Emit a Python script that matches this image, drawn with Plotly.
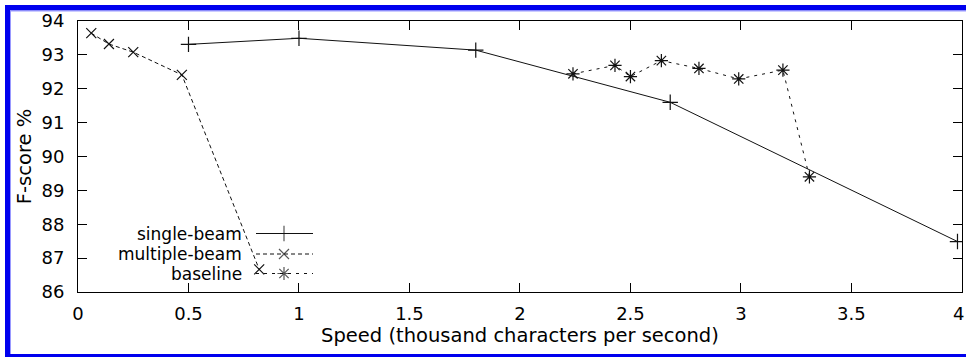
import plotly.graph_objects as go

# ---- data ----
single_x = [0.50, 1.00, 1.80, 2.68, 3.98]
single_y = [93.31, 93.49, 93.14, 91.60, 87.49]

multi_x = [0.06, 0.14, 0.25, 0.47, 0.82]
multi_y = [93.64, 93.32, 93.08, 92.41, 86.67]

base_x = [2.24, 2.43, 2.50, 2.64, 2.81, 2.99, 3.19, 3.31]
base_y = [92.44, 92.69, 92.36, 92.83, 92.60, 92.29, 92.55, 89.40]

series_names = ["single-beam", "multiple-beam", "baseline"]
x_ticks = [0, 0.5, 1, 1.5, 2, 2.5, 3, 3.5, 4]
x_tick_text = ["0", "0.5", "1", "1.5", "2", "2.5", "3", "3.5", "4"]
y_ticks = [86, 87, 88, 89, 90, 91, 92, 93, 94]

# ---- styles ----
W, H = 966, 357
ML, MR, MT, MB = 78, 4, 21, 65
PW, PH = W - ML - MR, H - MT - MB
FONT = "DejaVu Sans, Liberation Sans, Arial, sans-serif"
INK = "#111111"
styles = [
    dict(dash="solid", symbol="cross-thin", size=11),
    dict(dash="4px,3px", symbol="x-thin", size=10),
    dict(dash="3px,5px", symbol="asterisk", size=11),
]

def px_x(p):
    return (p - ML) / PW

def px_y(p):
    return (H - MB - p) / PH

fig = go.Figure()
for (xs, ys), name, st in zip([(single_x, single_y), (multi_x, multi_y), (base_x, base_y)],
                              series_names, styles):
    fig.add_trace(go.Scatter(
        x=xs, y=ys, mode="lines+markers", name=name, showlegend=False,
        line=dict(color=INK, width=1, dash=st["dash"]),
        marker=dict(symbol=st["symbol"], size=st["size"], color=INK,
                    line=dict(color=INK, width=1.2)),
    ))

# ---- custom gnuplot-style legend (text left of sample) ----
leg_rows_px = [233.5, 254, 273.5]
leg_line_px = (256, 313)
leg_mark_px = 284
leg_text_px = 244
shapes = []
annotations = []
for name, st, row in zip(series_names, styles, leg_rows_px):
    yy = px_y(row)
    shapes.append(dict(type="line", xref="paper", yref="paper",
                       x0=px_x(leg_line_px[0]), x1=px_x(leg_line_px[1]), y0=yy, y1=yy,
                       line=dict(color=INK, width=1, dash=st["dash"])))
    annotations.append(dict(xref="paper", yref="paper", x=px_x(leg_text_px), y=yy,
                            text=name, showarrow=False, xanchor="right", yanchor="middle",
                            font=dict(family=FONT, size=17, color="black")))
fig.add_trace(go.Scatter(
    x=[px_x(leg_mark_px)] * 3, y=[px_y(r) for r in leg_rows_px],
    xaxis="x2", yaxis="y2", mode="markers", showlegend=False, hoverinfo="skip",
    marker=dict(symbol=[s["symbol"] for s in styles], size=[s["size"] for s in styles],
                color=INK, line=dict(color=INK, width=1.2)),
))

# last x tick label: right-aligned at the page edge so it is not clipped
annotations.append(dict(xref="x", yref="paper", x=x_ticks[-1], y=0, xshift=MR,
                        yshift=-21, text=x_tick_text[-1], showarrow=False,
                        xanchor="right", yanchor="middle",
                        font=dict(family=FONT, size=18, color="black")))
shown_tick_text = x_tick_text[:-1] + [""]

# ---- blue page border ----
BLUE = "#0000ee"
def rect(x0, y0, x1, y1, color):
    return dict(type="rect", xref="paper", yref="paper", layer="above",
                x0=px_x(x0), x1=px_x(x1), y0=px_y(y1), y1=px_y(y0),
                fillcolor=color, line=dict(width=0))
shapes += [
    rect(5, 5, 966, 10.5, BLUE),
    rect(5, 5, 10, 357, BLUE),
    rect(5, 354, 966, 357, BLUE),
    rect(10, 10.5, 966, 11.5, "#9999ff"),
    rect(10, 10.5, 11, 354, "#9999ff"),
]

axis_common = dict(
    showline=True, linecolor="black", linewidth=1, mirror="ticks",
    ticks="inside", ticklen=9, tickwidth=1, tickcolor="black",
    showgrid=False, zeroline=False, automargin=False,
    tickfont=dict(family=FONT, size=18, color="black"),
)

fig.update_layout(
    width=W, height=H,
    margin=dict(l=ML, r=MR, t=MT, b=MB, autoexpand=False),
    paper_bgcolor="white", plot_bgcolor="white",
    font=dict(family=FONT, color="black"),
    shapes=shapes, annotations=annotations,
    xaxis=dict(range=[0, 4.0004], tickvals=x_ticks, ticktext=shown_tick_text,
               ticklabelstandoff=5,
               title=dict(text="Speed (thousand characters per second)",
                          font=dict(family=FONT, size=19.5), standoff=2),
               **axis_common),
    yaxis=dict(range=[86, 94], tickvals=y_ticks, ticklabelstandoff=9,
               title=dict(text="F-score %", font=dict(family=FONT, size=19.5), standoff=4),
               **axis_common),
    xaxis2=dict(range=[0, 1], overlaying="x", visible=False, fixedrange=True),
    yaxis2=dict(range=[0, 1], overlaying="y", visible=False, fixedrange=True),
)

fig.write_html("out.html")
